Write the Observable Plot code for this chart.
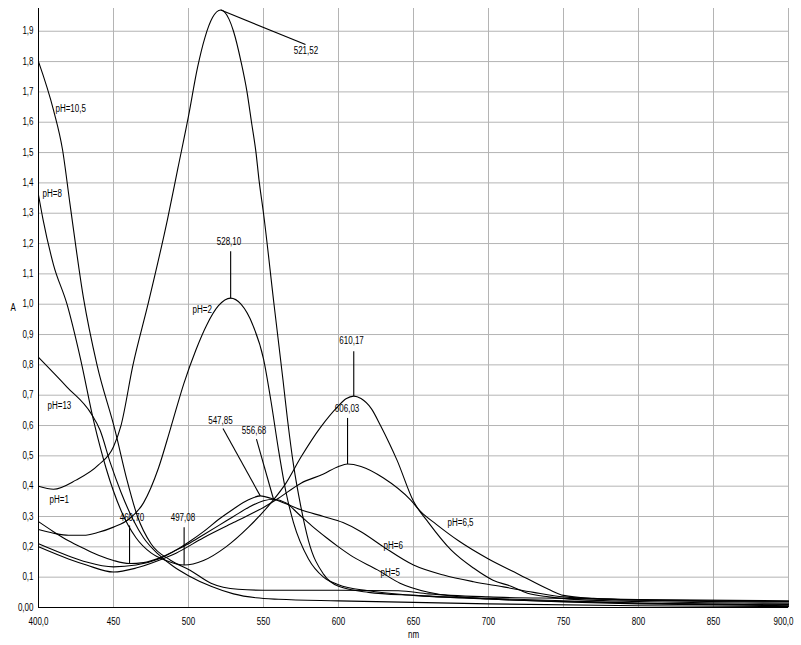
<!DOCTYPE html>
<html><head><meta charset="utf-8">
<script src="https://cdn.jsdelivr.net/npm/d3@7"></script>
<script src="https://cdn.jsdelivr.net/npm/@observablehq/plot@0.6"></script>
<style>body{margin:0;background:#fff} svg{display:block}</style>
</head><body><div id="chart"></div>
<script>
// ---- data (wavelength nm, absorbance A) ----
const nm_pH1 = [400,410,425,440,450,455,463,473,486,493,500,506,511,516,521.5,527,530,535,539,542,545,547,550,557,563,566,570,575,580,590,600,620,650,700,750,800,900];
const a_pH1  = [0.40,0.39,0.42,0.47,0.53,0.60,0.80,1.00,1.28,1.45,1.62,1.78,1.88,1.945,1.97,1.94,1.90,1.80,1.70,1.60,1.50,1.41,1.30,1.00,0.75,0.62,0.47,0.33,0.22,0.11,0.07,0.05,0.04,0.03,0.022,0.015,0.01];

const nm_pH2 = [400,410,420,430,440,450,460,470,480,488,497,505,512,520,528,535,543,550,555,560,565,570,580,590,600,620,650,700,750,800,900];
const a_pH2  = [0.257,0.245,0.238,0.238,0.248,0.265,0.29,0.345,0.46,0.59,0.74,0.85,0.93,0.995,1.02,1.00,0.93,0.82,0.68,0.52,0.38,0.28,0.16,0.10,0.075,0.055,0.04,0.028,0.018,0.012,0.006];

const nm_pH5 = [400,410,420,430,440,450,460.7,470,480,490,500,510,520,530,540,550,556.7,565,573,582,592,600,610,626,641,660,681,700,750,800,900];
const a_pH5  = [0.283,0.25,0.22,0.195,0.172,0.155,0.145,0.148,0.162,0.185,0.21,0.24,0.27,0.30,0.33,0.352,0.357,0.345,0.31,0.27,0.23,0.20,0.166,0.124,0.08,0.05,0.035,0.028,0.02,0.014,0.008];

const nm_pH6 = [400,420,432,450,465,480,492,500,510,520,530,540,547.85,555,565,575,590,603,615,630,650,670,690,710,730,750,800,900];
const a_pH6  = [0.21,0.17,0.15,0.134,0.14,0.16,0.19,0.215,0.25,0.29,0.325,0.355,0.368,0.36,0.342,0.322,0.30,0.28,0.25,0.20,0.14,0.107,0.085,0.068,0.05,0.035,0.024,0.018];

const nm_pH65 = [400,420,432,450,465,480,492,510,530,550,560,575,590,600,606,615,630,648,655,665,680,700,720,740,750,770,800,900];
const a_pH65  = [0.20,0.16,0.14,0.117,0.13,0.155,0.18,0.23,0.28,0.33,0.36,0.41,0.44,0.465,0.473,0.465,0.427,0.355,0.315,0.275,0.22,0.16,0.11,0.06,0.04,0.03,0.025,0.02];

const nm_pH8 = [400,403,410,419,428,437,445,455,465,475,485,497.08,510,525,540,555,565,575,588,600,605,610.17,615,622,628,634,639,650,660,675,690,703,715,726,740,760,800,900];
const a_pH8  = [1.36,1.28,1.13,1.00,0.82,0.61,0.46,0.32,0.23,0.18,0.155,0.14,0.155,0.20,0.265,0.345,0.41,0.496,0.594,0.665,0.688,0.697,0.689,0.655,0.60,0.54,0.486,0.35,0.28,0.19,0.13,0.09,0.07,0.047,0.035,0.026,0.02,0.014];

const nm_pH105 = [400,410,416,421,430,439,451,459,466,475,488,501,515,533,550,600,640,660,700,750,800,900];
const a_pH105  = [1.80,1.64,1.51,1.33,1.02,0.80,0.585,0.42,0.30,0.21,0.156,0.123,0.08,0.06,0.057,0.057,0.055,0.045,0.035,0.03,0.026,0.022];

const nm_pH13 = [400,419,435,441,448,455,463,470,480,490,500,515,530,545,560,600,650,700,800,900];
const a_pH13  = [0.825,0.727,0.64,0.585,0.475,0.38,0.29,0.23,0.175,0.135,0.105,0.07,0.045,0.032,0.027,0.022,0.017,0.012,0.006,0.003];

// curve labels
const phLabelText = ["pH=10,5","pH=8","pH=13","pH=2","pH=1","pH=6,5","pH=6","pH=5"];
const phLabelNm   = [411.3,402.7,406,502.7,407.3,672.7,630,628];
const phLabelA    = [1.644,1.364,0.665,0.98,0.354,0.28,0.205,0.113];

// extremum annotations
const peakText  = ["521,52","528,10","547,85","556,68","460,70","497,08","610,17","606,03"];
const peakNm    = [521.52,528.10,547.85,556.68,460.70,497.08,610.17,606.03];
const peakA     = [1.97,1.02,0.368,0.357,0.145,0.14,0.697,0.473];
const leadEndNm = [578,528.10,523,545.3,460.70,497.08,610.17,606.03];
const leadEndA  = [1.856,1.175,0.59,0.555,0.27,0.265,0.845,0.625];
const peakTextNm = [578.3,527,521.3,543.7,462.3,496.3,608.7,605.7];
const peakTextA  = [1.835,1.207,0.615,0.582,0.295,0.295,0.879,0.655];

// ticks
const xTicks = [400,450,500,550,600,650,700,750,800,850,900];
const xTickLabels = ["400,0","450","500","550","600","650","700","750","800","850","900,0"];
const yTicks = [0,0.1,0.2,0.3,0.4,0.5,0.6,0.7,0.8,0.9,1.0,1.1,1.2,1.3,1.4,1.5,1.6,1.7,1.8,1.9];
const yTickLabels = ["0,00","0,1","0,2","0,3","0,4","0,5","0,6","0,7","0,8","0,9","1,0","1,1","1,2","1,3","1,4","1,5","1,6","1,7","1,8","1,9"];

const series = [
  ["pH=1", nm_pH1, a_pH1], ["pH=2", nm_pH2, a_pH2], ["pH=5", nm_pH5, a_pH5],
  ["pH=6", nm_pH6, a_pH6], ["pH=6,5", nm_pH65, a_pH65], ["pH=8", nm_pH8, a_pH8],
  ["pH=10,5", nm_pH105, a_pH105], ["pH=13", nm_pH13, a_pH13]
];
const rows = series.flatMap(([name, xs, ys]) => xs.map((x, i) => ({series: name, nm: x, a: ys[i]})));
const leaders = peakNm.map((x, i) => ({x1: x, y1: peakA[i], x2: leadEndNm[i], y2: leadEndA[i]}));

const grid = "#b4b4b4";
const chart = Plot.plot({
  width: 801, height: 645,
  marginLeft: 38, marginRight: 13, marginTop: 8, marginBottom: 38,
  style: {fontFamily: "'Liberation Sans', Arial, sans-serif", fontSize: "10px", background: "#fff", color: "#000"},
  x: {domain: [400, 900]},
  y: {domain: [0, 1.975]},
  marks: [
    Plot.gridX(xTicks.filter(d => d > 400), {stroke: grid, strokeOpacity: 1}),
    Plot.gridY(yTicks.filter(d => d > 0), {stroke: grid, strokeOpacity: 1}),
    Plot.axisX({ticks: xTicks, tickFormat: d => xTickLabels[xTicks.indexOf(d)], tickSize: 0, tickPadding: 10, label: null}),
    Plot.axisY({ticks: yTicks, tickFormat: d => yTickLabels[yTicks.indexOf(d)], tickSize: 0, tickPadding: 5, label: null}),
    Plot.ruleX([400], {stroke: "#000"}),
    Plot.ruleY([0], {stroke: "#000"}),
    Plot.line(rows, {x: "nm", y: "a", z: "series", stroke: "#000", strokeWidth: 1.1, curve: "monotone-x"}),
    Plot.link(leaders, {x1: "x1", y1: "y1", x2: "x2", y2: "y2", stroke: "#000", strokeWidth: 1.1}),
    Plot.text(peakText, {x: peakTextNm, y: peakTextA, text: d => d, fontSize: 10, fill: "#000"}),
    Plot.text(phLabelText, {x: phLabelNm, y: phLabelA, text: d => d, fontSize: 10, textAnchor: "start", fill: "#000"}),
    Plot.text(["A"], {frameAnchor: "left", dx: -28, fontSize: 10, fill: "#000"}),
    Plot.text(["nm"], {frameAnchor: "bottom", dy: 30, fontSize: 10, fill: "#000"})
  ]
});
document.getElementById("chart").appendChild(chart);
// keep the last x tick label inside the picture: right-align it near the frame edge
chart.querySelectorAll("text").forEach(t => {
  if (t.textContent === xTickLabels[xTickLabels.length - 1]) {
    t.setAttribute("text-anchor", "end");
    t.setAttribute("dx", "5");
  }
});
// narrow the glyphs like the original's condensed screen font
chart.querySelectorAll("text").forEach(t => {
  const w = t.getComputedTextLength();
  if (w > 0) { t.setAttribute("textLength", (w * 0.8).toFixed(1)); t.setAttribute("lengthAdjust", "spacingAndGlyphs"); }
});
</script></body></html>
